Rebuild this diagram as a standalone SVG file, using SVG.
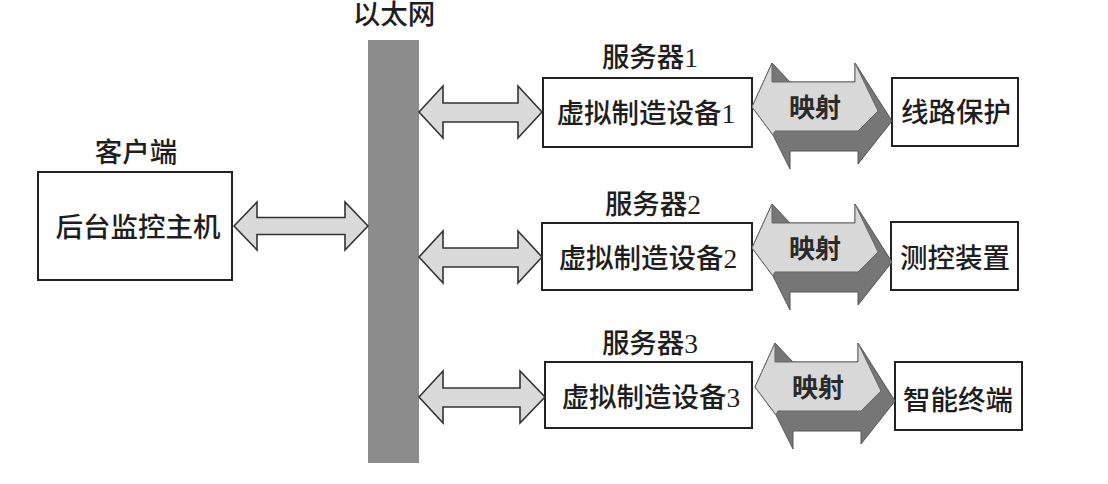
<svg xmlns="http://www.w3.org/2000/svg" width="1108" height="484" viewBox="0 0 1108 484">
<style>
.t{font-family:"Liberation Serif","Noto Sans CJK SC",serif;font-size:27.5px;font-weight:500;fill:#1e1e1e;text-anchor:middle}
.b{fill:#fff;stroke:#222;stroke-width:2}
.arr{fill:#dadada;stroke:#333;stroke-width:1.6;stroke-linejoin:miter}
.dk{fill:#767676;stroke:#555;stroke-width:1}
.lt{fill:#d8d8d8;stroke:#666;stroke-width:1}
.m{font-family:"Noto Sans CJK SC",sans-serif;font-size:26px;font-weight:bold;fill:#2a2a2a;text-anchor:middle}
</style>
<defs>
<g id="map3d">
<polygon class="dk" points="772,204 790,223 855,223 855,204 892,262 858,305 858,292 790,292 790,310 773,276 752,248"/>
<polygon class="lt" points="752,248 772,204 772,223 855,223 855,204 878,252 858,272 775,272 773,276"/>
</g>
</defs>
<rect width="1108" height="484" fill="#fff"/>
<g id="ethernet">
<rect x="368" y="40" width="51" height="423" fill="#8c8c8c"/>
<text class="t" x="394" y="24">以太网</text>
</g>
<g id="client">
<text class="t" x="136" y="162">客户端</text>
<rect class="b" x="38" y="172" width="194" height="108"/>
<text class="t" x="138" y="237">后台监控主机</text>
</g>
<g id="server1">
<text class="t" x="650" y="67">服务器1</text>
<rect class="b" x="543" y="78" width="209" height="69"/>
<text class="t" x="646" y="123">虚拟制造设备1</text>
</g>
<g id="server2">
<text class="t" x="653" y="214">服务器2</text>
<rect class="b" x="542" y="223" width="210" height="67"/>
<text class="t" x="648" y="268">虚拟制造设备2</text>
</g>
<g id="server3">
<text class="t" x="650" y="353">服务器3</text>
<rect class="b" x="545" y="362" width="207" height="66"/>
<text class="t" x="651" y="407">虚拟制造设备3</text>
</g>
<g id="device1">
<rect class="b" x="892" y="78" width="126" height="68"/>
<text class="t" x="956" y="122">线路保护</text>
</g>
<g id="device2">
<rect class="b" x="891" y="222" width="127" height="68"/>
<text class="t" x="955" y="268">测控装置</text>
</g>
<g id="device3">
<rect class="b" x="895" y="362" width="127" height="68"/>
<text class="t" x="958" y="410">智能终端</text>
</g>
<g id="connectors">
<polygon class="arr" points="234,226 257,202 257,217.5 345,217.5 345,202 368,226 345,250 345,234.5 257,234.5 257,250"/>
<polygon class="arr" points="419,112 443,86 443,103 518,103 518,86 542,112 518,138 518,122 443,122 443,138"/>
<polygon class="arr" points="419,257 443,231 443,248 518,248 518,231 542,257 518,283 518,267 443,267 443,283"/>
<polygon class="arr" points="419,397 443,371 443,388 520,388 520,371 545,397 520,423 520,407 443,407 443,423"/>
<g id="map1" transform="translate(0,-141)"><use href="#map3d"/><text class="m" x="815" y="258">映射</text></g>
<g id="map2"><use href="#map3d"/><text class="m" x="815" y="258">映射</text></g>
<g id="map3" transform="translate(3,139)"><use href="#map3d"/><text class="m" x="815" y="258">映射</text></g>
</g>
</svg>
